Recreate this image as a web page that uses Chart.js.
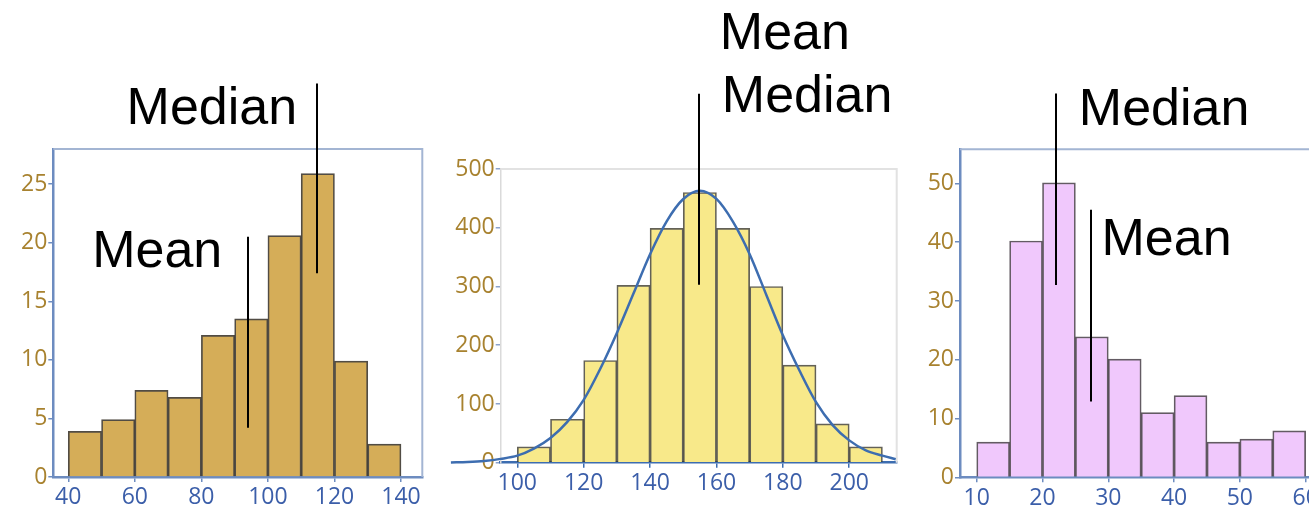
<!DOCTYPE html>
<html lang="en">
<head>
<meta charset="UTF-8">
<title>Mean and median in three histograms</title>
<script src="https://cdn.jsdelivr.net/npm/chart.js"></script>
<style>
  html, body { margin: 0; padding: 0; background: #fff; overflow: hidden; width: 1309px; height: 506px; }
  .panel { position: absolute; top: 0; height: 506px; }
</style>
</head>
<body>
<div class="panel" style="left:0;width:432px"><canvas id="leftChart" width="432" height="506"></canvas></div>
<div class="panel" style="left:440px;width:460px"><canvas id="midChart" width="460" height="506"></canvas></div>
<div class="panel" style="left:910px;width:430px"><canvas id="rightChart" width="430" height="506"></canvas></div>

<script>
  // left histogram (skewed left)
  const leftBins = [40, 50, 60, 70, 80, 90, 100, 110, 120, 130];
  const leftCounts = [3.9, 4.9, 7.4, 6.8, 12.1, 13.5, 20.6, 25.9, 9.9, 2.8];
  const leftXTicks = [40, 60, 80, 100, 120, 140];
  const leftYTicks = [0, 5, 10, 15, 20, 25];
  const leftMean = 94.1;
  const leftMedian = 114.8;

  // middle histogram (symmetric) + fitted curve
  const midBins = [100, 110, 120, 130, 140, 150, 160, 170, 180, 190, 200];
  const midCounts = [27, 74, 174, 302, 399, 460, 399, 300, 166, 66, 27];
  const midCurveX = [80, 85, 90, 95, 100, 105, 110, 115, 120, 125, 130, 135, 140, 145,
                     150, 155, 160, 165, 170, 175, 180, 185, 190, 195, 200, 205, 210, 214];
  const midCurveY = [0.5, 1.3, 3, 6.5, 12, 24, 42, 69, 107, 160, 221, 288, 355, 411,
                     449, 463, 449, 410, 355, 286, 217, 157, 103, 64, 38, 21, 12, 6];
  const midXTicks = [100, 120, 140, 160, 180, 200];
  const midYTicks = [0, 100, 200, 300, 400, 500];
  const midMean = 154.7;
  const midMedian = 154.7;

  // right histogram (skewed right)
  const rightBins = [10, 15, 20, 25, 30, 35, 40, 45, 50, 55];
  const rightCounts = [6, 40.2, 50.1, 23.9, 20.1, 11, 13.9, 6, 6.5, 7.9];
  const rightXTicks = [10, 20, 30, 40, 50, 60];
  const rightYTicks = [0, 10, 20, 30, 40, 50];
  const rightMean = 27.3;
  const rightMedian = 22.1;

  const tickFont = { family: '"Open Sans", "Noto Sans", sans-serif', size: 23 };
  const yTickColor = '#a8822f';
  const xTickColor = '#3b5ea9';

  // frame on top / right of the plot area
  const framePlugin = {
    id: 'frame',
    beforeDatasetsDraw(chart, args, opts) {
      const { ctx, chartArea: a } = chart;
      ctx.save();
      ctx.strokeStyle = opts.color;
      ctx.lineWidth = opts.width;
      ctx.beginPath();
      ctx.moveTo(a.left, a.top);
      ctx.lineTo(a.right, a.top);
      ctx.lineTo(a.right, a.bottom);
      ctx.stroke();
      ctx.restore();
    }
  };

  // mean / median marker lines and their captions
  const marksPlugin = {
    id: 'marks',
    afterDraw(chart, args, opts) {
      const { ctx } = chart;
      const x = chart.scales.x, y = chart.scales.y;
      ctx.save();
      ctx.strokeStyle = '#000';
      ctx.lineWidth = 2;
      opts.lines.forEach(l => {
        const px = Math.round(x.getPixelForValue(l.at));
        ctx.beginPath();
        ctx.moveTo(px, y.getPixelForValue(l.from));
        ctx.lineTo(px, y.getPixelForValue(l.to));
        ctx.stroke();
      });
      ctx.fillStyle = '#000';
      ctx.font = '52px "Liberation Sans", Arial, sans-serif';
      ctx.textBaseline = 'alphabetic';
      opts.labels.forEach(t => {
        ctx.textAlign = t.align;
        ctx.fillText(t.text, x.getPixelForValue(t.at) + t.dx, y.getPixelForValue(t.baseline));
      });
      ctx.restore();
    }
  };

  function histogram(id, o) {
    const bars = o.bins.map((b, i) => ({ x: b + o.binWidth / 2, y: o.counts[i] }));
    const datasets = [{
      type: 'bar',
      data: bars,
      backgroundColor: o.fill,
      borderColor: o.edge,
      borderWidth: 1.7,
      barPercentage: 1,
      categoryPercentage: 1,
      grouped: false,
      order: 2
    }];
    if (o.curveX) {
      datasets.push({
        type: 'line',
        data: o.curveX.map((cx, i) => ({ x: cx, y: o.curveY[i] })),
        borderColor: '#3d6db0',
        borderWidth: 2.5,
        pointRadius: 0,
        cubicInterpolationMode: 'monotone',
        clip: false,
        order: 1
      });
    }

    return new Chart(document.getElementById(id), {
      type: 'bar',
      data: { datasets },
      plugins: [framePlugin, marksPlugin],
      options: {
        responsive: false,
        animation: false,
        layout: { padding: { top: o.top, right: o.right, left: 0, bottom: 0 } },
        plugins: {
          legend: { display: false },
          tooltip: { enabled: false },
          frame: { color: o.frameColor, width: 2 },
          marks: { lines: o.lines, labels: o.labels }
        },
        scales: {
          x: {
            type: 'linear',
            offset: false,
            bounds: 'data',
            afterDataLimits: s => { s.min = o.xMin; s.max = o.xMax; },
            afterBuildTicks: s => { s.ticks = o.xTicks.map(v => ({ value: v })); },
            afterFit: s => { s.height = o.xHeight; },
            grid: { offset: false, drawOnChartArea: false, drawTicks: true, tickLength: 5, color: o.xAxisColor, lineWidth: 1.5 },
            border: { color: o.xAxisColor, width: o.xAxisWidth },
            ticks: { color: xTickColor, font: tickFont, padding: 2, maxRotation: 0 }
          },
          y: {
            min: 0,
            max: o.yMax,
            afterBuildTicks: s => { s.ticks = o.yTicks.map(v => ({ value: v })); },
            afterFit: s => { s.width = o.yWidth; },
            grid: { drawOnChartArea: false, drawTicks: true, tickLength: 5, color: o.yTickMark, lineWidth: 1.5 },
            border: { color: o.yAxisColor, width: o.yAxisWidth },
            ticks: { color: yTickColor, font: tickFont, padding: 1 }
          }
        }
      }
    });
  }

  histogram('leftChart', {
    bins: leftBins, counts: leftCounts, binWidth: 10,
    xMin: 35.5, xMax: 146.4, yMax: 28,
    xTicks: leftXTicks, yTicks: leftYTicks,
    fill: '#d5ad58', edge: 'rgba(50,45,35,0.85)',
    top: 149, right: 9.7, yWidth: 53.3, xHeight: 29,
    xAxisColor: '#6d8cc0', xAxisWidth: 2.5,
    yAxisColor: '#6d8cc0', yAxisWidth: 2.5, yTickMark: '#6d8cc0',
    frameColor: '#a3b5d3',
    lines: [
      { at: leftMean, from: 4.2, to: 20.5 },
      { at: leftMedian, from: 17.4, to: 33.6 }
    ],
    labels: [
      { text: 'Median', at: leftMedian, dx: -20, baseline: 30.1, align: 'right' },
      { text: 'Mean', at: leftMean, dx: -26, baseline: 17.9, align: 'right' }
    ]
  });

  histogram('midChart', {
    bins: midBins, counts: midCounts, binWidth: 10,
    curveX: midCurveX, curveY: midCurveY,
    xMin: 95, xMax: 214.3, yMax: 500,
    xTicks: midXTicks, yTicks: midYTicks,
    fill: '#f8e98a', edge: 'rgba(60,58,45,0.8)',
    top: 169, right: 3.3, yWidth: 60.7, xHeight: 43.3,
    xAxisColor: '#3d6db0', xAxisWidth: 2.5,
    yAxisColor: '#dadada', yAxisWidth: 1.5, yTickMark: '#8aa2cc',
    frameColor: '#e2e2e2',
    lines: [
      { at: midMean, from: 303, to: 628 }
    ],
    labels: [
      { text: 'Mean', at: midMean, dx: 21, baseline: 705, align: 'left' },
      { text: 'Median', at: midMedian, dx: 23, baseline: 597, align: 'left' }
    ]
  });

  histogram('rightChart', {
    bins: rightBins, counts: rightCounts, binWidth: 5,
    xMin: 7.46, xMax: 63.7, yMax: 55.8,
    xTicks: rightXTicks, yTicks: rightYTicks,
    fill: '#f0c8fc', edge: 'rgba(60,50,60,0.8)',
    top: 149.3, right: 10, yWidth: 50, xHeight: 28.7,
    xAxisColor: '#6d8cc0', xAxisWidth: 2.5,
    yAxisColor: '#6d8cc0', yAxisWidth: 2.5, yTickMark: '#6d8cc0',
    frameColor: '#a3b5d3',
    lines: [
      { at: rightMedian, from: 32.7, to: 65.3 },
      { at: rightMean, from: 12.9, to: 45.5 }
    ],
    labels: [
      { text: 'Median', at: rightMedian, dx: 22.5, baseline: 60.0, align: 'left' },
      { text: 'Mean', at: rightMean, dx: 11, baseline: 37.8, align: 'left' }
    ]
  });
</script>
</body>
</html>
